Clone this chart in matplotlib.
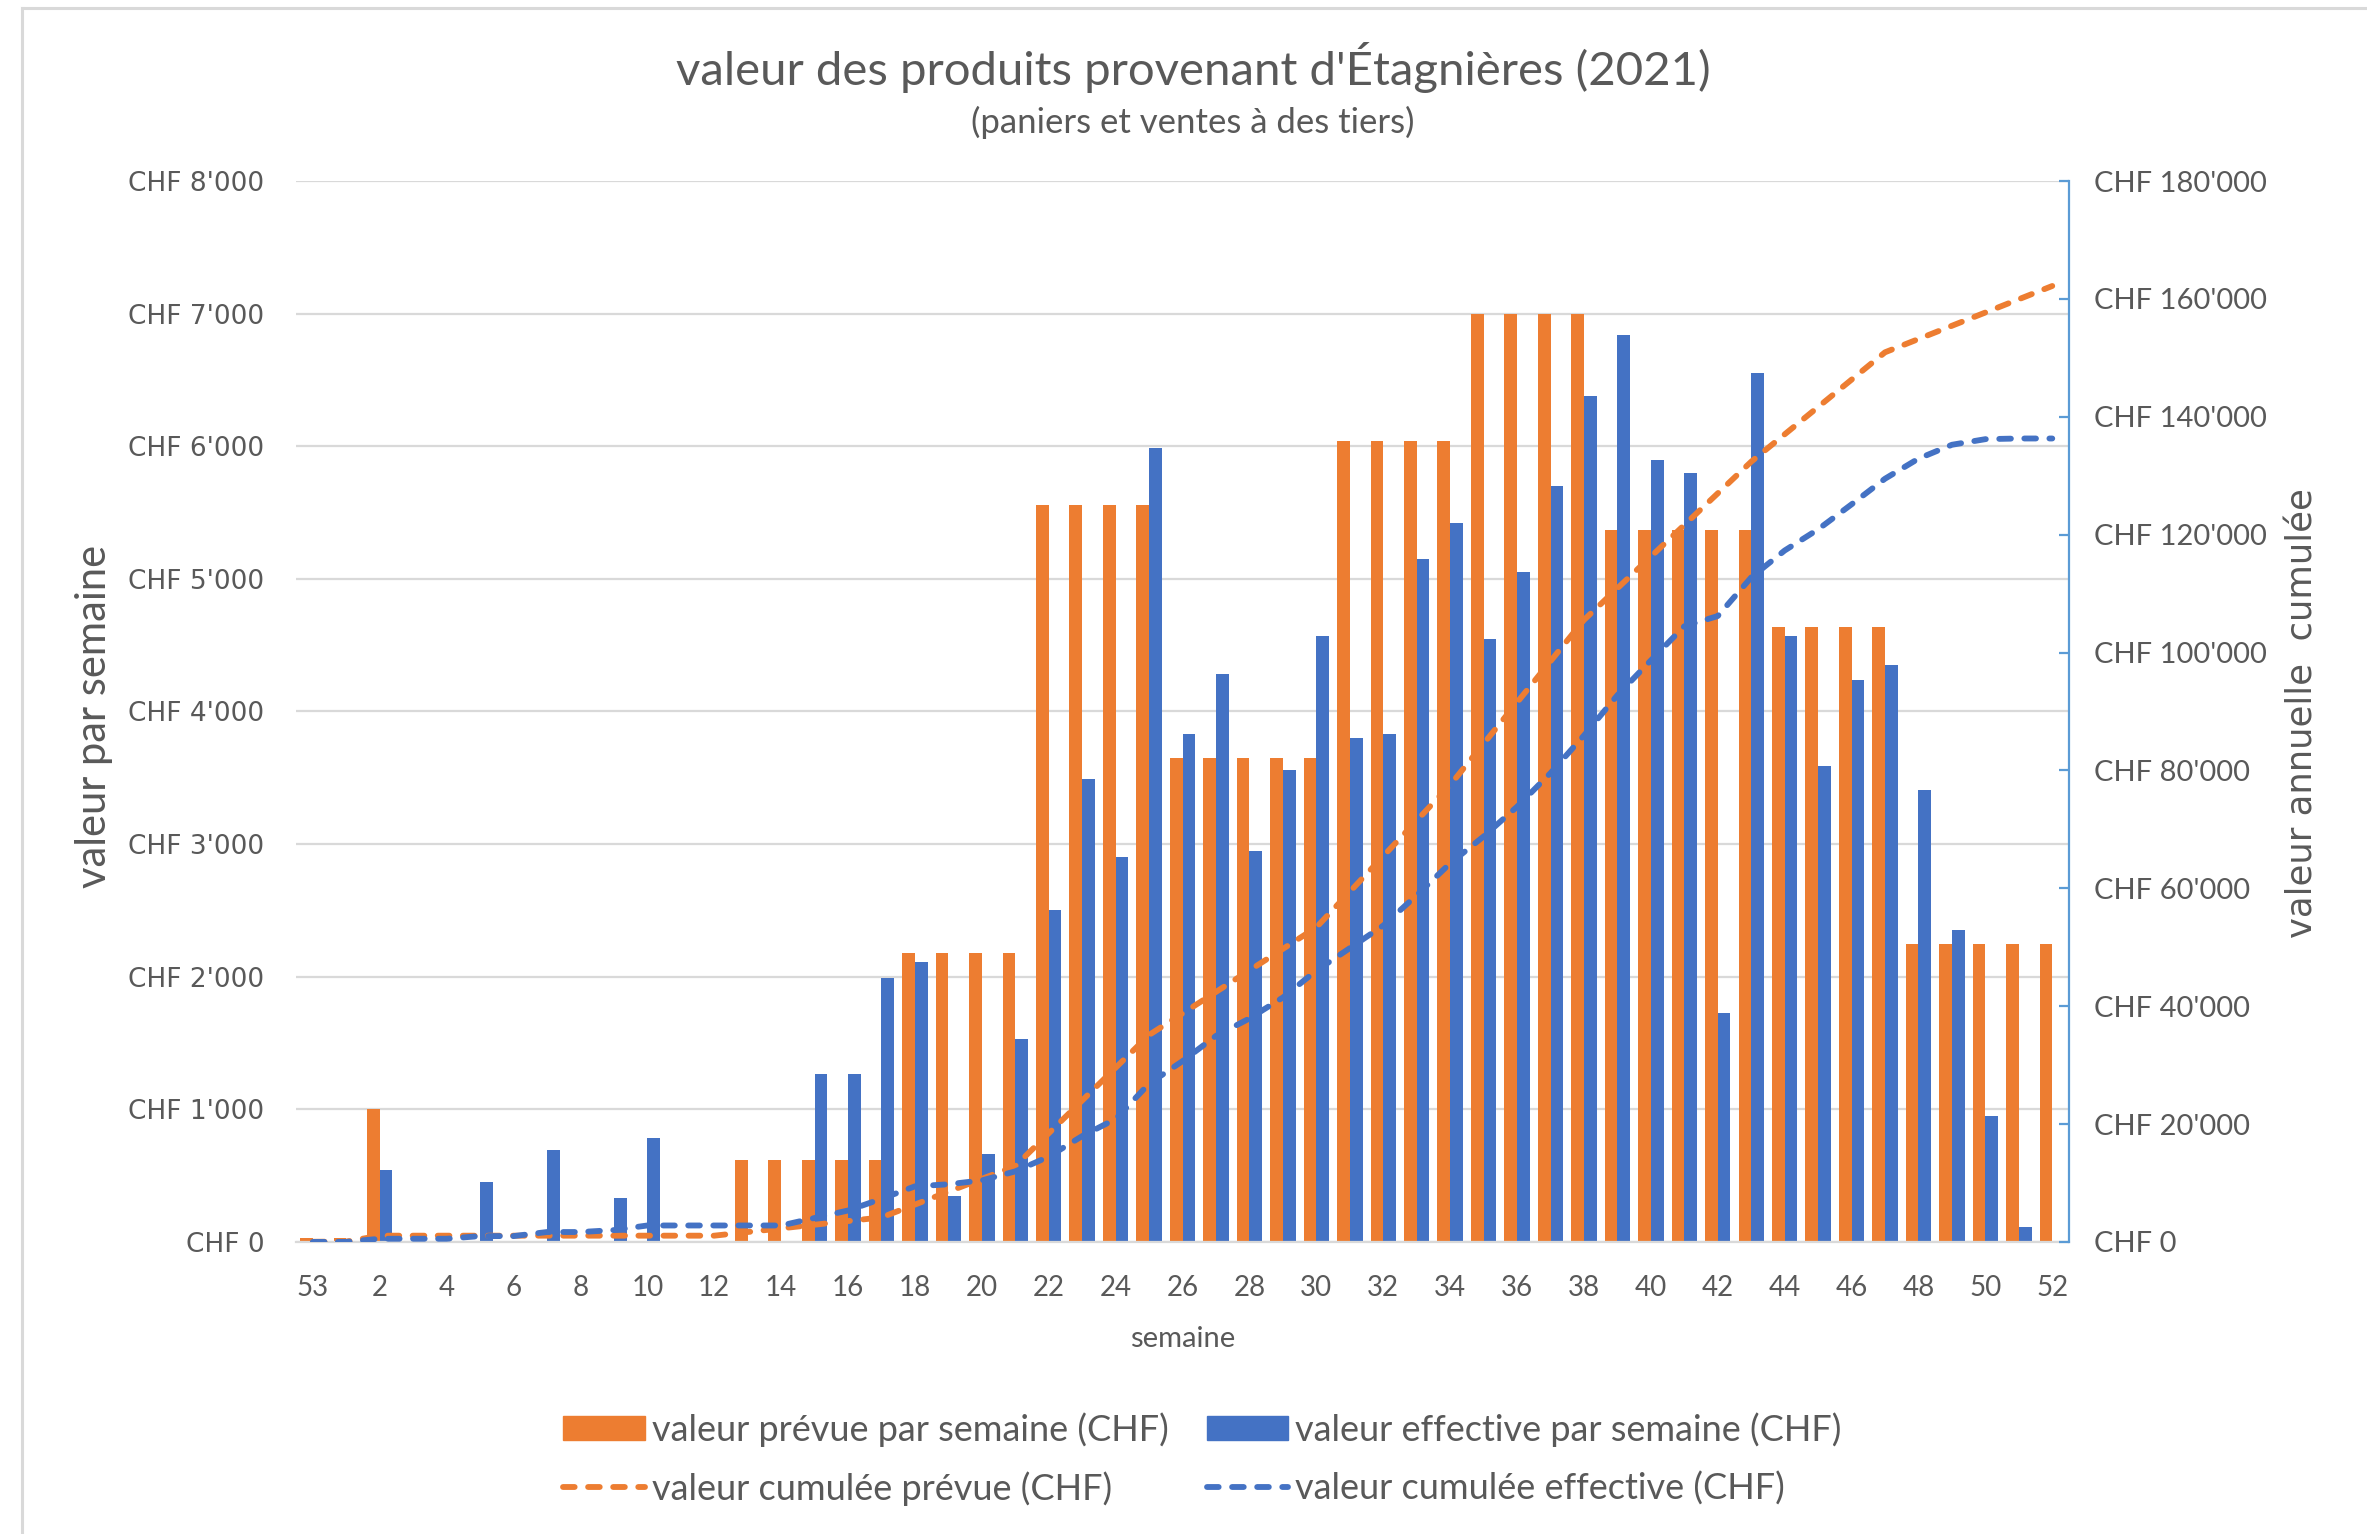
import numpy as np
import matplotlib
matplotlib.use("Agg")
import matplotlib.pyplot as plt
from matplotlib.lines import Line2D
from matplotlib.patches import Patch
from matplotlib.ticker import FuncFormatter, MultipleLocator

# semaines 53 (2020) puis 1..52
weeks = [53] + list(range(1, 53))

# valeur prévue par semaine (CHF)
planned = [30, 30, 1000, 0, 0, 0, 0, 0, 0, 0, 0, 0, 0,
           620, 620, 620, 620, 620,
           2180, 2180, 2180, 2180,
           5560, 5560, 5560, 5560,
           3650, 3650, 3650, 3650, 3650,
           6040, 6040, 6040, 6040,
           7000, 7000, 7000, 7000,
           5370, 5370, 5370, 5370, 5370,
           4640, 4640, 4640, 4640,
           2250, 2250, 2250, 2250, 2250]

# valeur effective par semaine (CHF)
actual = [0, 0, 540, 0, 0, 450, 0, 690, 0, 330, 780, 0, 0, 0, 0,
          1270, 1270, 1990, 2110, 350, 660, 1530, 2500, 3490, 2900, 5990,
          3830, 4280, 2950, 3560, 4570, 3800, 3830, 5150, 5420, 4550,
          5050, 5700, 6380, 6840, 5900, 5800, 1730, 6550, 4570, 3590,
          4240, 4350, 3410, 2350, 950, 115, 0]

# valeur cumulée prévue (CHF)
planned_cum = [30, 60, 1060, 1060, 1060, 1060, 1060, 1060, 1060, 1060, 1060, 1060, 1060,
               1680, 2300, 2920, 3540, 4160, 6340, 8520, 10700, 12880,
               18440, 24000, 29560, 35120, 38770, 42420, 46070, 49720, 53370,
               59410, 65450, 71490, 77530, 84530, 91530, 98530, 105530,
               110900, 116270, 121640, 127010, 132380, 137020, 141660,
               146300, 150940, 153190, 155440, 157690, 159940, 162190]

# valeur cumulée effective (CHF)
actual_cum = [0, 0, 540, 540, 540, 990, 990, 1680, 1680, 2010, 2790, 2790,
              2790, 2790, 2790, 4060, 5330, 7320, 9430, 9780, 10440, 11970,
              14470, 17960, 20860, 26850, 30680, 34960, 37910, 41470, 46040,
              49840, 53670, 58820, 64240, 68790, 73840, 79540, 85920, 92760,
              98660, 104460, 106190, 112740, 117310, 120900, 125140, 129490,
              132900, 135250, 136200, 136315, 136315]

ORANGE = "#ED7D31"
BLUE = "#4472C4"
TXT = "#595959"
GRID = "#D9D9D9"
AXBLUE = "#5B9BD5"
CAL = ["Lato", "DejaVu Sans"]

plt.rcParams["font.family"] = CAL

fig = plt.figure(figsize=(23.67, 15.34), dpi=100)
ax = fig.add_axes([0.1251, 0.1904, 0.749, 0.6916])
ax2 = ax.twinx()

x = np.arange(len(weeks))
w = 0.38
ax.bar(x - w / 2, planned, w, color=ORANGE, zorder=2)
ax.bar(x + w / 2, actual, w, color=BLUE, zorder=2)

ls = dict(lw=4.2, dashes=(2, 2.3), dash_capstyle="round")
ax2.plot(x, planned_cum, color=ORANGE, **ls)
ax2.plot(x, actual_cum, color=BLUE, **ls)

fmt = FuncFormatter(lambda v, p: "CHF " + f"{int(v):,}".replace(",", "'"))

ax.set_xlim(-0.5, len(weeks) - 0.5)
ax.set_ylim(0, 8000)
ax.yaxis.set_major_locator(MultipleLocator(1000))
ax.yaxis.set_major_formatter(fmt)
ax.grid(axis="y", color=GRID, lw=1.6, zorder=0)
ax.set_axisbelow(True)
for s in ["left", "right", "top"]:
    ax.spines[s].set_visible(False)
ax.spines["bottom"].set_color(GRID)
ax.spines["bottom"].set_linewidth(1.6)
ax.set_xticks(x[::2])
ax.set_xticklabels([str(v) for v in weeks[::2]])
ax.tick_params(axis="x", length=0, pad=24, labelsize=20, labelcolor=TXT)
ax.tick_params(axis="y", length=0, pad=23, labelsize=19, labelcolor=TXT)
for t in ax.get_yticklabels():
    t.set_family("DejaVu Sans")

ax2.set_ylim(0, 180000)
ax2.yaxis.set_major_locator(MultipleLocator(20000))
ax2.yaxis.set_major_formatter(fmt)
for s in ["left", "top", "bottom"]:
    ax2.spines[s].set_visible(False)
ax2.spines["right"].set_color(AXBLUE)
ax2.spines["right"].set_linewidth(1.6)
ax2.tick_params(axis="y", direction="in", length=7, width=1.6, color=AXBLUE,
                pad=18, labelsize=21, labelcolor=TXT)

ax.set_xlabel("semaine", fontsize=21, color=TXT, labelpad=18)
fig.text(0.0397, 0.533, "valeur par semaine", rotation=90, ha="center",
         va="center", fontsize=30, color=TXT)
fig.text(0.9726, 0.535, "valeur annuelle  cumulée", rotation=90, ha="center",
         va="center", fontsize=25.5, color=TXT, family="DejaVu Sans")

fig.text(0.504, 0.9557, "valeur des produits provenant d'Étagnières (2021)",
         ha="center", va="center", fontsize=34, color=TXT)
fig.text(0.504, 0.920, "(paniers et ventes à des tiers)", ha="center",
         va="center", fontsize=25, color=TXT)

handles = [Patch(color=ORANGE),
           Line2D([], [], color=ORANGE, **ls),
           Patch(color=BLUE),
           Line2D([], [], color=BLUE, **ls)]
labels = ["valeur prévue par semaine (CHF)", "valeur cumulée prévue (CHF)",
          "valeur effective par semaine (CHF)", "valeur cumulée effective (CHF)"]
fig.legend(handles, labels, ncol=2, loc="center", bbox_to_anchor=(0.508, 0.049),
           frameon=False, fontsize=26, labelcolor=TXT, handlelength=2.25,
           handleheight=0.65, handletextpad=0.2, columnspacing=1.05,
           labelspacing=0.68)

# cadre du graphique (gauche et haut)
fig.add_artist(Line2D([0.0093, 0.0093], [0, 0.9948], color=GRID, lw=2.2,
                      transform=fig.transFigure))
fig.add_artist(Line2D([0.0093, 1], [0.9948, 0.9948], color=GRID, lw=2.2,
                      transform=fig.transFigure))

fig.savefig("out.png", dpi=100)
